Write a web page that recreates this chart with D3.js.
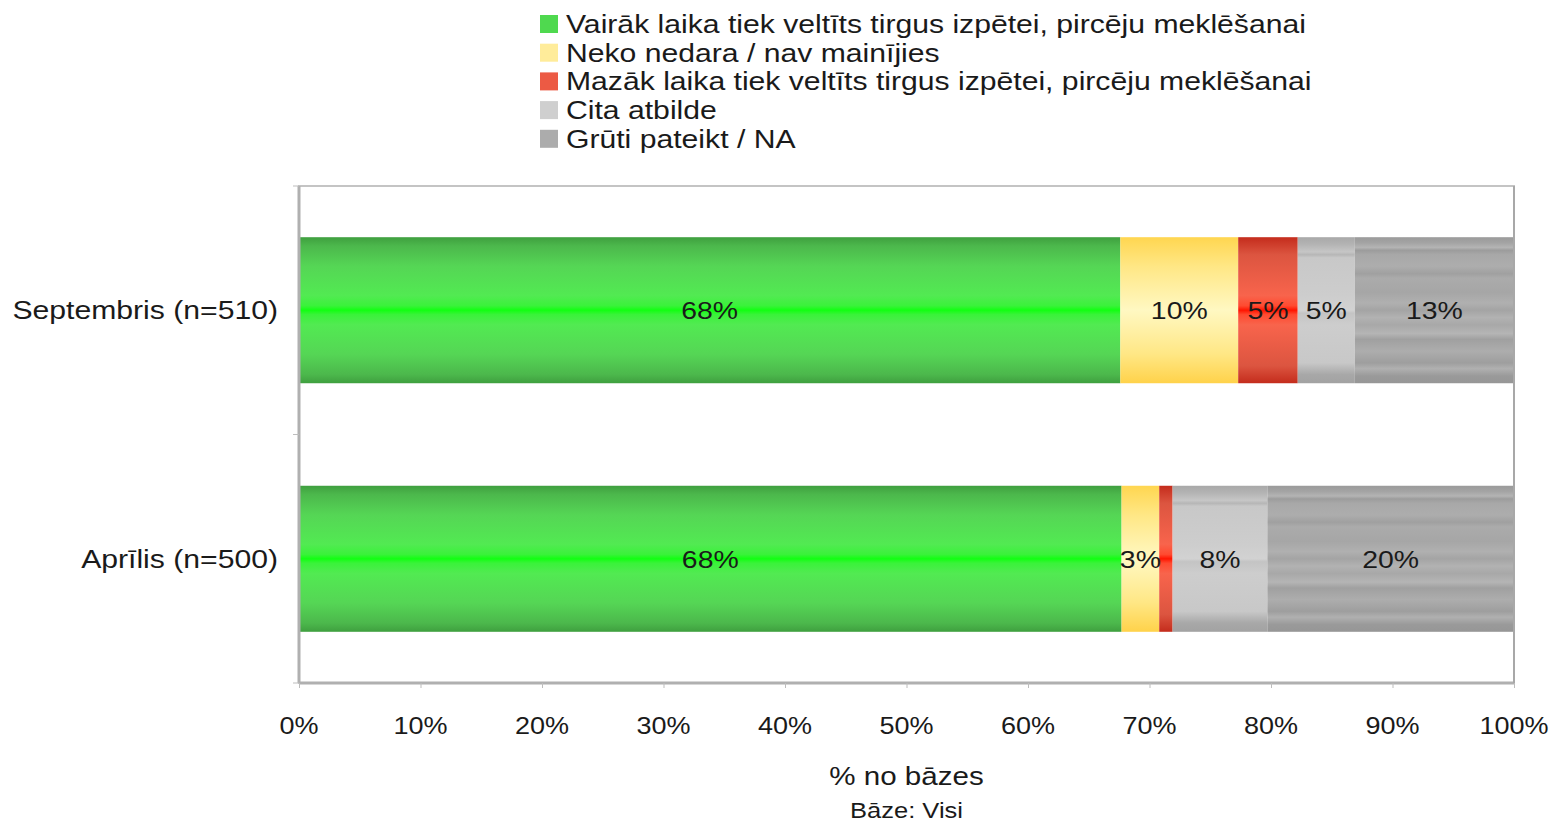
<!DOCTYPE html>
<html>
<head>
<meta charset="utf-8">
<script src="https://cdn.jsdelivr.net/npm/d3@7"></script>
<style>
  html, body { margin: 0; padding: 0; background: #fff; }
  svg { display: block; }
  text { font-family: "Liberation Sans", Arial, sans-serif; fill: #1a1a1a; }
</style>
</head>
<body>
<svg id="chart" width="1552" height="824"></svg>
<script>
// Survey periods (rows, top to bottom)
const categories = ["Septembris (n=510)", "Aprīlis (n=500)"];

// Answer options (stack order, left to right)
const seriesNames = [
  "Vairāk laika tiek veltīts tirgus izpētei, pircēju meklēšanai",
  "Neko nedara / nav mainījies",
  "Mazāk laika tiek veltīts tirgus izpētei, pircēju meklēšanai",
  "Cita atbilde",
  "Grūti pateikt / NA"
];

// Share of respondents, % (one array per answer option, in category order)
const vairak   = [67.6, 67.7];
const neko     = [9.7, 3.1];
const mazak    = [4.9, 1.1];
const cita     = [4.7, 7.8];
const gruti    = [13.1, 20.3];

const xTicks = [0, 10, 20, 30, 40, 50, 60, 70, 80, 90, 100];
const xTitle = "% no bāzes";
const baseNote = "Bāze: Visi";

const seriesValues = [vairak, neko, mazak, cita, gruti];

const svg = d3.select("#chart");
const SX = 1.16; // slightly wide lettering

function wideText(sel, x, y, str, size, anchor) {
  return sel.append("text")
    .attr("transform", `translate(${x},${y}) scale(${SX},1)`)
    .attr("text-anchor", anchor || "start")
    .attr("font-size", size)
    .text(str);
}

// Vertical gradients that give each bar its glossy, banded look
const defs = svg.append("defs");
const gradStops = [
  [[0, "#3f9f3f"], [0.06, "#4cb84c"], [0.2, "#55d655"], [0.4, "#52ea52"], [0.47, "#3af23a"],
   [0.5, "#12ff12"], [0.53, "#3af23a"], [0.6, "#52ea52"], [0.8, "#55d655"], [0.94, "#4cb84c"], [1, "#3f9f3f"]],
  [[0, "#ffd650"], [0.2, "#ffe785"], [0.5, "#fff8c2"], [0.8, "#ffe785"], [1, "#ffd24a"]],
  [[0, "#c42c1c"], [0.12, "#dc5540"], [0.4, "#f8644c"], [0.47, "#ff4a30"], [0.5, "#ff1400"],
   [0.53, "#ff4a30"], [0.6, "#f8644c"], [0.88, "#dc5540"], [1, "#c42c1c"]],
  [[0, "#a8a8a8"], [0.05, "#b4b4b4"], [0.1, "#c6c6c6"], [0.12, "#b6b6b6"], [0.14, "#c8c8c8"],
   [0.4, "#cdcdcd"], [0.5, "#d2d2d2"], [0.52, "#c4c4c4"], [0.6, "#cdcdcd"], [0.86, "#c8c8c8"],
   [0.9, "#b8b8b8"], [0.94, "#a8a8a8"], [1, "#a2a2a2"]],
  [[0, "#9a9a9a"], [0.04, "#a4a4a4"], [0.07, "#b4b4b4"], [0.09, "#9c9c9c"], [0.12, "#a8a8a8"],
   [0.2, "#adadad"], [0.25, "#a0a0a0"], [0.28, "#ababab"], [0.38, "#a6a6a6"], [0.45, "#b0b0b0"],
   [0.5, "#a4a4a4"], [0.55, "#b2b2b2"], [0.6, "#a8a8a8"], [0.66, "#b5b5b5"], [0.7, "#a0a0a0"],
   [0.78, "#adadad"], [0.86, "#9e9e9e"], [0.9, "#b0b0b0"], [0.95, "#9a9a9a"], [1, "#969696"]]
];
const swatchColors = ["#4fd94f", "#ffec9a", "#ec5a44", "#cfcfcf", "#acacac"];

gradStops.forEach((stops, i) => {
  const g = defs.append("linearGradient")
    .attr("id", "grad" + i)
    .attr("x1", 0).attr("y1", 0).attr("x2", 0).attr("y2", 1);
  stops.forEach(([o, c]) => g.append("stop").attr("offset", o).attr("stop-color", c));
});

// Plot geometry
const plot = { left: 299, right: 1514, top: 186, bottom: 683 };

const x = d3.scaleLinear().domain([0, 100]).range([plot.left, plot.right]);
const y = d3.scaleBand().domain(categories)
  .range([plot.top, plot.bottom])
  .paddingInner(0.4125).paddingOuter(0.206);

// Stack the series
const rows = categories.map((c, ci) => {
  const r = { cat: c };
  seriesNames.forEach((s, si) => { r[s] = seriesValues[si][ci]; });
  return r;
});
const stacked = d3.stack().keys(seriesNames)(rows);

// Frame
const frame = svg.append("g");
frame.append("rect")
  .attr("x", plot.left).attr("y", plot.top)
  .attr("width", plot.right - plot.left).attr("height", plot.bottom - plot.top)
  .attr("fill", "#fff").attr("stroke", "#c4c4c4").attr("stroke-width", 2);

// Bars
const barG = svg.append("g");
stacked.forEach((layer, si) => {
  barG.selectAll(null).data(layer).join("rect")
    .attr("x", d => x(d[0]))
    .attr("y", d => y(d.data.cat))
    .attr("width", d => x(d[1]) - x(d[0]))
    .attr("height", y.bandwidth())
    .attr("fill", `url(#grad${si})`);
});

// Value labels
const fmt = v => Math.round(v) + "%";
const labelG = svg.append("g");
stacked.forEach(layer => {
  layer.forEach(d => {
    const v = d[1] - d[0];
    if (v < 2) return;
    wideText(labelG, (x(d[0]) + x(d[1])) / 2, y(d.data.cat) + y.bandwidth() / 2 + 9, fmt(v), 24.5, "middle")
      .attr("fill", "#2a2a2a");
  });
});

// Axis lines (left and bottom drawn heavier)
svg.append("line")
  .attr("x1", plot.left).attr("x2", plot.left)
  .attr("y1", plot.top).attr("y2", plot.bottom)
  .attr("stroke", "#b0b0b0").attr("stroke-width", 3);
svg.append("line")
  .attr("x1", plot.left).attr("x2", plot.right)
  .attr("y1", plot.bottom).attr("y2", plot.bottom)
  .attr("stroke", "#b0b0b0").attr("stroke-width", 3);
svg.append("line")
  .attr("x1", plot.right).attr("x2", plot.right)
  .attr("y1", plot.top).attr("y2", plot.bottom)
  .attr("stroke", "#a8a8a8").attr("stroke-width", 2);

// X axis ticks and labels
const xAxis = d3.axisBottom(x).tickValues(xTicks).tickSize(5).tickFormat("");
const xg = svg.append("g").attr("transform", `translate(0,${plot.bottom})`).call(xAxis);
xg.select(".domain").remove();
xg.selectAll(".tick line").attr("stroke", "#bdbdbd");
xTicks.forEach(t => wideText(svg, x(t), 734, t + "%", 23.3, "middle").attr("fill", "#333"));

// Y axis: ticks between rows, category names
const yEdges = [plot.top, (y(categories[0]) + y.bandwidth() + y(categories[1])) / 2, plot.bottom];
svg.selectAll(null).data(yEdges).join("line")
  .attr("x1", plot.left - 6).attr("x2", plot.left)
  .attr("y1", d => d).attr("y2", d => d)
  .attr("stroke", "#bdbdbd");
categories.forEach(c => {
  wideText(svg, 278, y(c) + y.bandwidth() / 2 + 9, c, 26, "end").attr("fill", "#2a2a2a");
});

// Axis title and base note
wideText(svg, (plot.left + plot.right) / 2, 785, xTitle, 25.5, "middle").attr("fill", "#2a2a2a");
wideText(svg, (plot.left + plot.right) / 2, 818, baseNote, 22, "middle").attr("fill", "#2a2a2a");

// Legend
const legend = svg.append("g");
seriesNames.forEach((s, i) => {
  const cy = 24 + i * 28.7;
  legend.append("rect")
    .attr("x", 540).attr("y", cy - 9).attr("width", 18).attr("height", 18)
    .attr("fill", swatchColors[i]);
  wideText(legend, 566, cy + 9, s, 26, "start").attr("fill", "#2a2a2a");
});
</script>
</body>
</html>
